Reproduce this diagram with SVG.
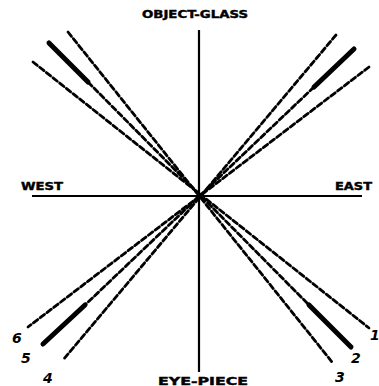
<svg xmlns="http://www.w3.org/2000/svg" width="379" height="386" viewBox="0 0 379 386">
<style>
.axis{stroke:#000;stroke-width:2.2;fill:none}
.dash{stroke:#000;stroke-width:2.8;stroke-dasharray:5.5 3;fill:none;stroke-linecap:round}
.thick{stroke:#000;stroke-width:5;fill:none;stroke-linecap:round}
.lbl{font-family:"DejaVu Sans","Liberation Sans",sans-serif;font-weight:bold;font-size:10px;fill:#000;stroke:#000;stroke-width:0.4}
.num{font-family:"DejaVu Sans","Liberation Sans",sans-serif;font-weight:bold;font-style:italic;font-size:14px;fill:#000}
</style>
<rect width="379" height="386" fill="#fff"/>
<g id="axes">
<line class="axis" x1="199" y1="30" x2="199" y2="372"/>
<line class="axis" x1="32" y1="196" x2="362" y2="196"/>
</g>
<g id="connectors">
<line class="dash" x1="68" y1="32" x2="332" y2="362"/>
<line class="dash" x1="88" y1="82" x2="309" y2="305"/>
<line class="thick" x1="49" y1="43" x2="88" y2="82"/>
<line class="thick" x1="309" y1="305" x2="351" y2="347"/>
<line class="dash" x1="33" y1="62" x2="369" y2="328"/>
<line class="dash" x1="336" y1="35" x2="63" y2="360"/>
<line class="dash" x1="314" y1="87" x2="85" y2="305"/>
<line class="thick" x1="354" y1="49" x2="314" y2="87"/>
<line class="thick" x1="43" y1="344" x2="85" y2="305"/>
<line class="dash" x1="369" y1="67" x2="28" y2="327"/>
</g>
<g id="labels">
<text class="lbl" x="142" y="18" textLength="106" lengthAdjust="spacingAndGlyphs">OBJECT-GLASS</text>
<text class="lbl" x="158" y="385" textLength="90" lengthAdjust="spacingAndGlyphs">EYE-PIECE</text>
<text class="lbl" x="21" y="190" textLength="42" lengthAdjust="spacingAndGlyphs">WEST</text>
<text class="lbl" x="335" y="190" textLength="37" lengthAdjust="spacingAndGlyphs">EAST</text>
</g>
<g id="numbers">
<text class="num" x="370" y="340">1</text>
<text class="num" x="351" y="363">2</text>
<text class="num" x="335" y="382">3</text>
<text class="num" x="43" y="383">4</text>
<text class="num" x="21" y="363">5</text>
<text class="num" x="12" y="343">6</text>
</g>
</svg>
